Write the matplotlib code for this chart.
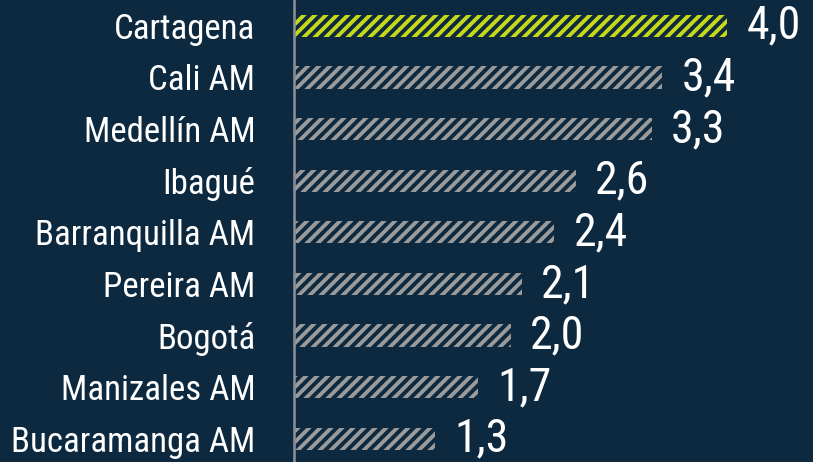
import matplotlib
matplotlib.use("Agg")
import matplotlib.pyplot as plt

categories = ["Cartagena", "Cali AM", "Medellín AM", "Ibagué", "Barranquilla AM",
              "Pereira AM", "Bogotá", "Manizales AM", "Bucaramanga AM"]
values = [4.0, 3.4, 3.3, 2.6, 2.4, 2.1, 2.0, 1.7, 1.3]
value_labels = ["4,0", "3,4", "3,3", "2,6", "2,4", "2,1", "2,0", "1,7", "1,3"]

BG = "#0c2940"
HIGHLIGHT = "#c5d81a"
GRAY = "#9a9a9a"

DPI = 132
plt.rcParams["hatch.linewidth"] = 2.1
plt.rcParams["font.family"] = ["Roboto Condensed", "DejaVu Sans"]

fig = plt.figure(figsize=(813 / DPI, 462 / DPI), dpi=DPI, facecolor=BG)
ax = fig.add_axes([294 / 813, 0, 1 - 294 / 813, 1])
ax.set_facecolor(BG)

ypos = list(range(len(categories)))
for i, (v, lab) in enumerate(zip(values, value_labels)):
    col = HIGHLIGHT if i == 0 else GRAY
    ax.barh(i, v, height=0.43, color=BG, edgecolor=col, hatch="////", linewidth=0)
    ax.text(v + 0.18, i, lab, color="white", fontsize=25, va="center", ha="left")

ax.set_xlim(0, 4.79)
ax.set_ylim(8.45, -0.5)
ax.set_yticks(ypos)
ax.set_yticklabels(categories, fontsize=19, color="white")
ax.tick_params(axis="y", length=0, pad=21)
ax.set_xticks([])
for s in ["top", "right", "bottom"]:
    ax.spines[s].set_visible(False)
ax.spines["left"].set_color("#8a8f96")
ax.spines["left"].set_linewidth(1.4)

fig.savefig("out.png", dpi=DPI, facecolor=BG)
